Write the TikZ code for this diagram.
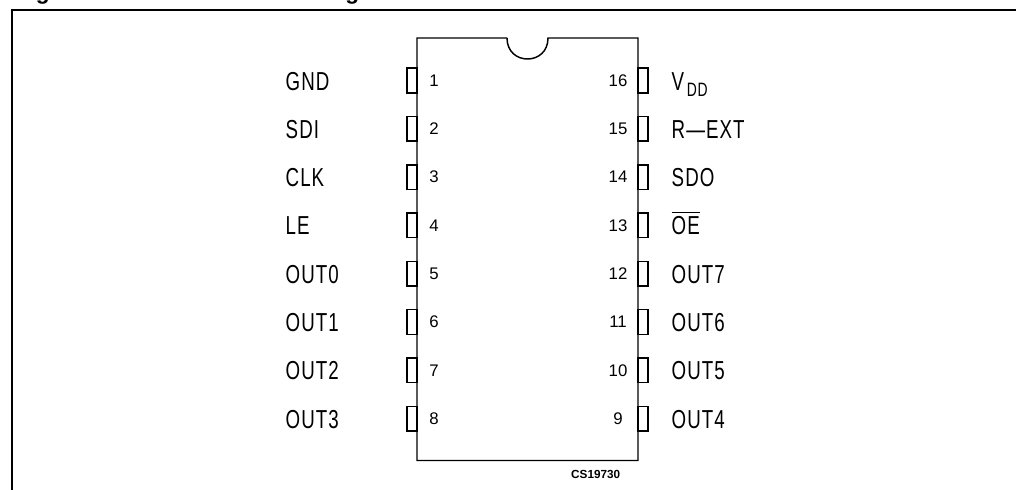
\documentclass[tikz,border=0pt]{standalone}
\usepackage{fontspec}
\setmainfont{Liberation Sans}
\newfontfamily\pinfont[FakeStretch=0.72,LetterSpace=4]{Liberation Sans}
\usetikzlibrary{positioning}

\tikzset{
  pin/.style={draw, line width=1.1pt, minimum width=7.5pt, minimum height=18.5pt, inner sep=0pt},
  pinnum/.style={inner sep=0pt, font=\fontsize{12.6}{14}\selectfont},
  pinname/.style={inner sep=0pt, anchor=base west, font=\pinfont\fontsize{19.5}{22}\selectfont}
}

\begin{document}
\begin{tikzpicture}[x=0.75pt, y=-0.75pt, line width=1.1pt]

  \useasboundingbox (0,0) rectangle (1016,489);

  % title, cut off by the page
  \begin{scope}
    \clip (0,0) rectangle (1016,489);
    \node[inner sep=0pt, anchor=base west, font=\bfseries\fontsize{17}{19}\selectfont] (title) at (15,-0.2) {Figure 2.\hspace{2.6em}Connections diagram};
  \end{scope}

  % frame
  \coordinate (frameA) at (12,490);
  \coordinate (frameB) at (12,10);
  \coordinate (frameC) at (1017,10);
  \draw[line width=1.5pt] (frameA) -- (frameB) -- (frameC);

  % package
  \coordinate (nw) at (417,38);
  \coordinate (ne) at (638,38);
  \coordinate (se) at (638,460.5);
  \coordinate (sw) at (417,460.5);
  \coordinate (notchL) at (507,38);
  \coordinate (notchR) at (548,38);
  \draw (notchL) -- (nw) -- (sw) -- (se) -- (ne) -- (notchR)
        .. controls (548,66) and (507,66) .. (notchL);

  % pins
  \foreach \n/\name [count=\i from 0] in {1/GND,2/SDI,3/CLK,4/LE,5/OUT0,6/OUT1,7/OUT2,8/OUT3} {
    \node[pin] (pin\n) at (412,80.5+48.3*\i) {};
    \node[pinnum] (num\n) at (434,80.5+48.3*\i) {\n};
    \node[pinname] (name\n) at (285,90+48.3*\i) {\name};
  }
  \foreach \n/\name [count=\i from 0] in {16/{V\kern2pt\raisebox{-0.5ex}{\fontsize{14.5}{16}\selectfont DD}},15/{R\textemdash EXT},14/SDO,13/{$\overline{\mbox{OE}\rule{0pt}{15.5pt}}$},12/OUT7,11/OUT6,10/OUT5,9/OUT4} {
    \node[pin] (pin\n) at (643,80.5+48.3*\i) {};
    \node[pinnum] (num\n) at (618,80.5+48.3*\i) {\n};
    \node[pinname] (name\n) at (671,90+48.3*\i) {\name};
  }

  \node[inner sep=0pt, font=\bfseries\fontsize{8.8}{10}\selectfont] (code) at (595.7,474) {CS19730};

\end{tikzpicture}
\end{document}
